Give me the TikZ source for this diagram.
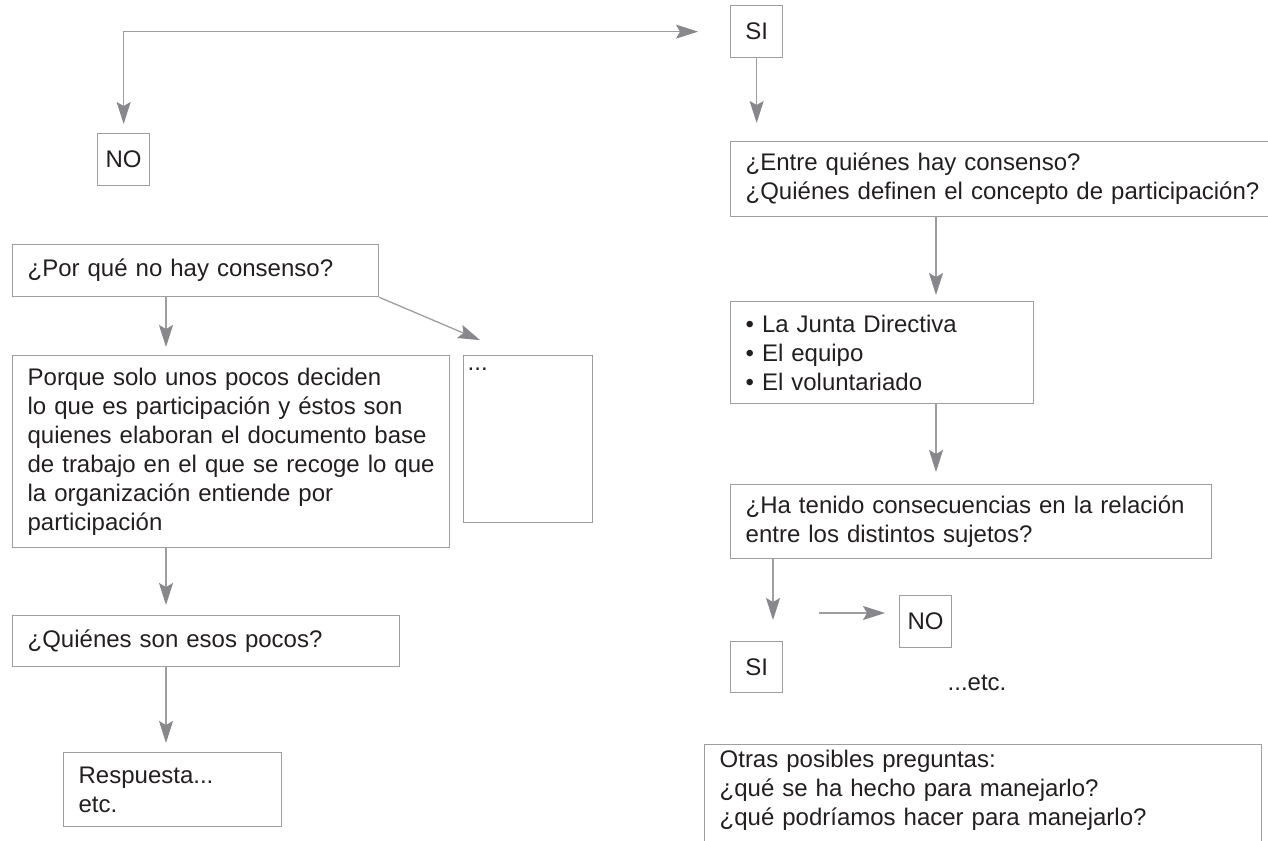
\documentclass[tikz,border=0pt]{standalone}
\usepackage{xcolor}
\usepackage{fontspec}
\setmainfont{Liberation Sans}
\usepackage{tikz}
\usetikzlibrary{arrows.meta, positioning}
\definecolor{gris}{RGB}{158,158,162}
\definecolor{grisflecha}{RGB}{135,135,140}
\definecolor{tinta}{RGB}{35,31,32}
\tikzstyle{caja}=[rectangle, draw=gris, line width=1.3pt, anchor=north west, inner ysep=0pt, inner xsep=15pt, align=left, text=tinta, font=\fontsize{24}{29}\selectfont]
\tikzstyle{cajita}=[caja, inner xsep=0pt, align=center, minimum width=52pt, minimum height=52pt]
\tikzstyle{flecha}=[-{Stealth[length=22pt, width=14pt, inset=4pt, color=grisflecha]}, draw=gris, line width=1.3pt]

\begin{document}
\begin{tikzpicture}[x=1pt, y=-1pt]
		\useasboundingbox (0,0) rectangle (1268,840);
		\clip (0,0) rectangle (1268,840);
		% columna izquierda
		\node[cajita] (noArriba) at (97,133) {NO};
		\node[caja, minimum height=52pt, text width=336pt] (porque) at (12,244) {¿Por qué no hay consenso?};
		\node[caja, minimum height=192pt, text width=407pt] (grande) at (12,355)
			{Porque solo unos pocos deciden\\lo que es participación y éstos son\\quienes elaboran el documento base\\de trabajo en el que se recoge lo que\\la organización entiende por\\participación};
		\node[caja, inner xsep=4pt, text width=121pt, text height=15pt, text depth=152pt] (puntos) at (463,355) {...};
		\node[caja, minimum height=51pt, text width=357pt] (quienes) at (12,615) {¿Quiénes son esos pocos?};
		\node[caja, minimum height=74pt, text width=188pt] (respuesta) at (63,752) {Respuesta...\\etc.};
		% columna derecha
		\node[cajita] (siArriba) at (730,5) {SI};
		\node[caja, minimum height=75pt, text width=530pt] (entre) at (730,141)
			{¿Entre quiénes hay consenso?\\¿Quiénes definen el concepto de participación?};
		\node[caja, minimum height=102pt, text width=273pt] (lista) at (730,301)
			{• La Junta Directiva\\• El equipo\\• El voluntariado};
		\node[caja, minimum height=74pt, text width=451pt] (tenido) at (730,484)
			{¿Ha tenido consecuencias en la relación\\entre los distintos sujetos?};
		\node[cajita, minimum height=51pt] (siAbajo) at (730,641) {SI};
		\node[cajita] (noAbajo) at (899,595) {NO};
		\node[caja, draw=none, inner sep=0pt, anchor=base west] (etc) at (947,690) {...etc.};
		\node[caja, text width=527pt, text height=23pt, text depth=110pt] (otras) at (704,744)
			{Otras posibles preguntas:\\¿qué se ha hecho para manejarlo?\\¿qué podríamos hacer para manejarlo?};
		% ejes de las flechas
		\coordinate (ejeIzq) at (166,0);
		\coordinate (ejeDer) at (936,0);
		\coordinate (ejeTenido) at (773,0);
		\coordinate (haciaNo) at (819,613);
		% flechas
		\draw[flecha, {Stealth[length=22pt, width=14pt, inset=4pt, color=grisflecha]}-{Stealth[length=22pt, width=14pt, inset=4pt, color=grisflecha]}, shorten <=9pt, shorten >=32pt] (noArriba.north) |- (siArriba.west);
		\draw[flecha, shorten >=18pt] (siArriba.south) -- (siArriba.south |- entre.north);
		\draw[flecha, shorten >=6pt] (entre.south -| ejeDer) -- (lista.north -| ejeDer);
		\draw[flecha, shorten >=12pt] (lista.south -| ejeDer) -- (tenido.north -| ejeDer);
		\draw[flecha, shorten >=21pt] (tenido.south -| ejeTenido) -- (siAbajo.north -| ejeTenido);
		\draw[flecha, shorten >=14pt] (haciaNo) -- (haciaNo -| noAbajo.west);
		\draw[flecha, shorten >=8pt] (porque.south -| ejeIzq) -- (grande.north -| ejeIzq);
		\draw[flecha, shorten >=38pt] (porque.south east) -- ([xshift=52pt]puntos.north west);
		\draw[flecha, shorten >=10pt] (grande.south -| ejeIzq) -- (quienes.north -| ejeIzq);
		\draw[flecha, shorten >=9pt] (quienes.south -| ejeIzq) -- (respuesta.north -| ejeIzq);
	\end{tikzpicture}
\end{document}
